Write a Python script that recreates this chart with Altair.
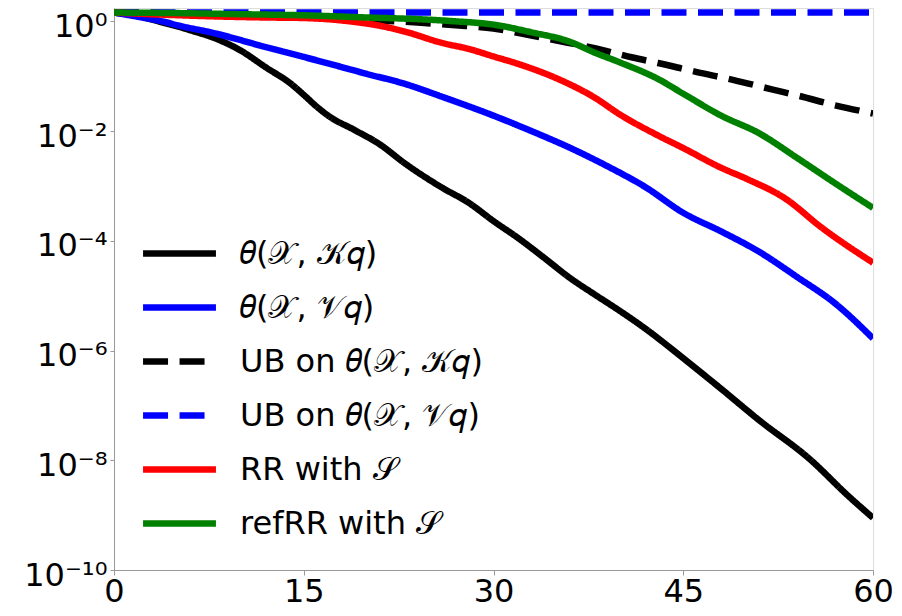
import altair as alt
import pandas as pd

# ---- data ----
labels = [
    "𝜃(𝒳, 𝒦𝑞)",
    "𝜃(𝒳, 𝒱𝑞)",
    "UB on 𝜃(𝒳, 𝒦𝑞)",
    "UB on 𝜃(𝒳, 𝒱𝑞)",
    "RR with 𝒮",
    "refRR with 𝒮",
]
colors = ["#000000", "#0000ff", "#000000", "#0000ff", "#ff0000", "#008000"]
dashes = [[1, 0], [1, 0], [25, 11.5], [25, 11.5], [1, 0], [1, 0]]

x_k = [0, 2, 4, 5, 6, 8, 10, 12, 14, 15, 16, 17, 19, 21, 23, 26, 28, 30, 32, 34,
       36, 38, 40, 42, 45, 48, 51, 55, 58, 60]
theta_k = [1.445, 1.23, 0.933, 0.813, 0.692, 0.490, 0.295, 0.145, 0.0724, 0.0457,
           0.0282, 0.0186, 0.0105, 5.75e-3, 2.57e-3, 9.12e-4, 5.01e-4, 2.29e-4,
           1.10e-4, 4.90e-5, 2.14e-5, 1.05e-5, 5.25e-6, 2.51e-6, 7.24e-7, 2.00e-7,
           5.37e-8, 1.05e-8, 2.29e-9, 8.91e-10]

x_v = [0, 2, 4, 5, 8, 12, 16, 20, 23, 26, 30, 33, 36, 39, 42, 45, 48, 51, 54, 57, 60]
theta_v = [1.445, 1.20, 0.977, 0.851, 0.603, 0.339, 0.195, 0.110, 0.0724, 0.0417,
           0.0191, 0.0100, 5.01e-3, 2.29e-3, 9.55e-4, 3.24e-4, 1.48e-4, 6.31e-5,
           2.19e-5, 7.24e-6, 1.66e-6]

x_ubk = [0, 10, 18, 24, 27, 30, 33, 35, 38, 41, 43, 46, 49, 52, 54, 57, 60]
ub_k = [1.445, 1.318, 1.122, 0.95, 0.85, 0.74, 0.55, 0.447, 0.324, 0.219, 0.174,
        0.120, 0.0851, 0.0575, 0.0447, 0.0295, 0.0209]

x_ubv = [0, 60]
ub_v = [1.45, 1.45]

x_rr = [0, 4, 8, 12, 15, 19, 21, 23, 26, 28, 30, 32, 35, 38, 40, 43, 45, 48, 50,
        53, 56, 60]
rr = [1.445, 1.32, 1.23, 1.175, 1.15, 0.977, 0.832, 0.65, 0.40, 0.316, 0.229, 0.166,
      0.0912, 0.0407, 0.0200, 8.32e-3, 4.90e-3, 2.14e-3, 1.35e-3, 6.03e-4, 1.70e-4,
      3.98e-5]

x_ref = [0, 5, 10, 15, 20, 24, 27, 30, 33, 36, 38, 40, 43, 45, 48, 51, 54, 57, 60]
refrr = [1.445, 1.413, 1.349, 1.288, 1.175, 1.096, 1.0, 0.871, 0.631, 0.427, 0.269,
         0.178, 0.0891, 0.0479, 0.0191, 9.12e-3, 3.24e-3, 1.12e-3, 3.98e-4]

x_ticks = [0, 15, 30, 45, 60]
y_ticks = [1e-10, 1e-8, 1e-6, 1e-4, 1e-2, 1]

series = [
    (labels[0], x_k, theta_k),
    (labels[1], x_v, theta_v),
    (labels[2], x_ubk, ub_k),
    (labels[3], x_ubv, ub_v),
    (labels[4], x_rr, rr),
    (labels[5], x_ref, refrr),
]

frames = []
for name, xs, ys in series:
    frames.append(pd.DataFrame({"q": xs, "val": ys, "series": name}))
df = pd.concat(frames, ignore_index=True)

ylabel_expr = (
    "datum.value >= 0.5 ? '10⁰' : datum.value >= 0.005 ? '10⁻²' : "
    "datum.value >= 5e-5 ? '10⁻⁴' : datum.value >= 5e-7 ? '10⁻⁶' : "
    "datum.value >= 5e-9 ? '10⁻⁸' : '10⁻¹⁰'"
)

color_scale = alt.Scale(domain=labels, range=colors)
dash_scale = alt.Scale(domain=labels, range=dashes)

legend = alt.Legend(
    title=None,
    orient="none",
    legendX=47,
    legendY=227,
    symbolType="M-2.43,0H2.43",
    symbolSize=900,
    symbolStrokeWidth=6.5,
    labelFontSize=32,
    labelFont="DejaVu Sans",
    labelColor="#000000",
    labelOffset=42,
    rowPadding=19,
    padding=0,
    labelLimit=600,
)

layers = []
for name, _, _ in series:
    layers.append(
        alt.Chart(df)
        .transform_filter(alt.datum.series == name)
        .mark_line(strokeWidth=6.5, clip=True, interpolate="monotone")
        .encode(
            x=alt.X(
                "q:Q",
                scale=alt.Scale(domain=[0, 60], nice=False),
                axis=alt.Axis(values=x_ticks, title=None, grid=False, labelFontSize=32,
                              labelFont="DejaVu Sans", labelColor="#000000",
                              tickSize=5, labelPadding=1, domainColor="#999999",
                              tickColor="#999999", labelFlush=False),
            ),
            y=alt.Y(
                "val:Q",
                scale=alt.Scale(type="log", domain=[1e-10, 1.75], nice=False),
                axis=alt.Axis(values=y_ticks, title=None, grid=False, labelFontSize=32,
                              labelFont="DejaVu Sans", labelColor="#000000",
                              labelExpr=ylabel_expr, tickSize=4, labelPadding=3,
                              domainColor="#999999", tickColor="#999999",
                              labelOffset=5, labelFlush=False),
            ),
            color=alt.Color("series:N", scale=color_scale, legend=legend, sort=labels),
            strokeDash=alt.StrokeDash("series:N", scale=dash_scale, legend=legend, sort=labels),
        )
    )

chart = (
    alt.layer(*layers)
    .properties(
        width=759,
        height=562,
        autosize=alt.AutoSizeParams(type="none"),
        padding={"left": 106, "top": 0, "right": 20, "bottom": 46},
    )
    .configure_view(stroke="#999999", strokeWidth=1)
    .configure(background="white")
)

chart.save("out.html", embed_options={"renderer": "svg", "actions": False})
